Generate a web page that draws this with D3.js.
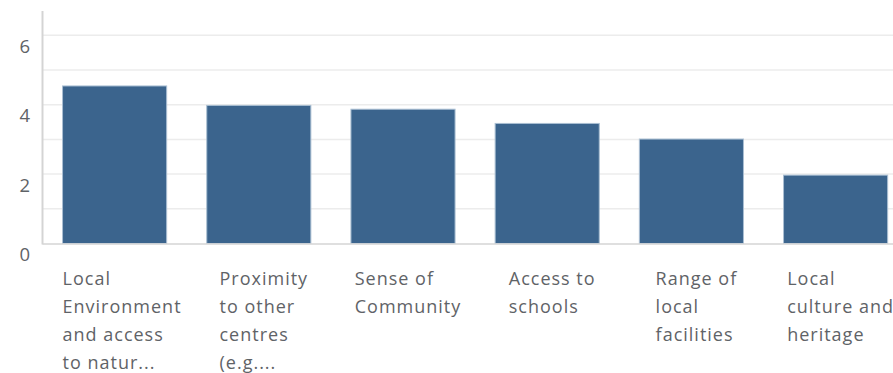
<!DOCTYPE html>
<html>
<head>
<meta charset="utf-8">
<script src="https://cdn.jsdelivr.net/npm/d3@7"></script>
<style>
  html, body { margin: 0; padding: 0; background: #fff; overflow: hidden; }
  svg { display: block; }
  text { font-family: "Open Sans", "Noto Sans", sans-serif; fill: #5f6367; }
</style>
</head>
<body>
<svg id="chart" width="893" height="373"></svg>
<script>
// Category labels, already wrapped into lines
const categories = [
  ["Local", "Environment", "and access", "to natur..."],
  ["Proximity", "to other", "centres", "(e.g...."],
  ["Sense of", "Community"],
  ["Access to", "schools"],
  ["Range of", "local", "facilities"],
  ["Local", "culture and", "heritage"]
];
// Average score per category
const values = [4.54, 3.98, 3.87, 3.46, 3.01, 1.97];
// Labelled y ticks and gridline values
const tickLabels = [0, 2, 4, 6];
const gridValues = [1, 2, 3, 4, 5, 6];

const svg = d3.select("#chart");
const plotLeft = 42.5, plotBottom = 243.5, plotTop = 11, step = 144.2;

const x = d3.scaleBand()
  .domain(d3.range(categories.length))
  .range([plotLeft, plotLeft + step * categories.length])
  .paddingInner(0.278)
  .paddingOuter(0.139);

const y = d3.scaleLinear().domain([0, 6.7]).range([plotBottom, plotTop]);

// gridlines
svg.append("g").selectAll("line")
  .data(gridValues)
  .join("line")
  .attr("x1", plotLeft).attr("x2", 893)
  .attr("y1", d => y(d)).attr("y2", d => y(d))
  .attr("stroke", "#ececec").attr("stroke-width", 1.5);

// bars
svg.append("g").selectAll("rect")
  .data(values)
  .join("rect")
  .attr("x", (d, i) => x(i))
  .attr("width", x.bandwidth())
  .attr("y", d => y(d))
  .attr("height", d => y(0) - y(d))
  .attr("fill", "#3b648d")
  .attr("stroke", "#aabfd3")
  .attr("stroke-width", 1);

// baseline and left axis line
svg.append("line")
  .attr("x1", plotLeft).attr("x2", 893)
  .attr("y1", y(0) + 0.5).attr("y2", y(0) + 0.5)
  .attr("stroke", "#d4d4d4").attr("stroke-width", 1.5);
svg.append("line")
  .attr("x1", plotLeft).attr("x2", plotLeft)
  .attr("y1", y(6.7)).attr("y2", y(0) + 1)
  .attr("stroke", "#d4d4d4").attr("stroke-width", 2);

// y tick labels, set just below each gridline
svg.append("g").selectAll("text")
  .data(tickLabels)
  .join("text")
  .attr("x", 30)
  .attr("y", d => y(d) + 17.5)
  .attr("text-anchor", "end")
  .attr("font-size", 18.5)
  .text(d => d);

// wrapped category labels: left-aligned block centred under its bar
const lab = svg.append("g").selectAll("text")
  .data(categories)
  .join("text")
  .attr("y", 285)
  .attr("font-size", 18)
  .attr("letter-spacing", 1);
lab.selectAll("tspan")
  .data(d => d)
  .join("tspan")
  .attr("dy", (d, j) => j === 0 ? 0 : 28)
  .text(d => d);
lab.each(function (d, i) {
  const t = d3.select(this);
  let w = 0;
  t.selectAll("tspan").each(function () { w = Math.max(w, this.getComputedTextLength()); });
  const cx = x(i) + x.bandwidth() / 2 + 5;
  const lx = Math.max(x(i), cx - w / 2);
  t.attr("x", lx);
  t.selectAll("tspan").attr("x", lx);
});
</script>
</body>
</html>
